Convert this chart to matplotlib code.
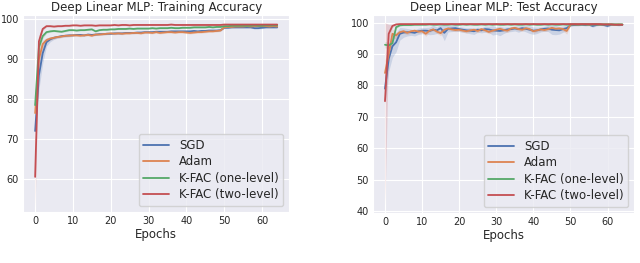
import numpy as np
import matplotlib
matplotlib.use("Agg")
import matplotlib.pyplot as plt
import seaborn as sns

sns.set_style("darkgrid")
plt.rcParams['font.family'] = ['DejaVu Sans']

epochs = np.arange(65)
labels = ['SGD', 'Adam', 'K-FAC (one-level)', 'K-FAC (two-level)']

# training accuracy (mean over runs)
sgd_train = [72.0, 86.0, 91.5, 94.3, 95.0, 95.4, 95.6, 95.8, 95.9, 96.0,
             96.0, 96.1, 96.1, 96.0, 96.2, 96.1, 96.2, 96.3, 96.3, 96.4,
             96.4, 96.5, 96.5, 96.5, 96.6, 96.6, 96.6, 96.7, 96.7, 96.8,
             96.8, 96.8, 96.9, 96.9, 96.9, 96.9, 97.0, 97.0, 97.0, 97.0,
             97.0, 97.0, 97.1, 97.0, 97.1, 97.1, 97.2, 97.2, 97.2, 97.3,
             97.9, 97.9, 98.0, 98.0, 98.0, 98.0, 98.0, 98.0, 97.8, 97.8,
             97.9, 98.0, 98.0, 98.0, 98.0]
adam_train = [76.5, 90.0, 93.8, 94.8, 95.2, 95.4, 95.6, 95.7, 95.9, 95.9,
              96.0, 96.0, 95.9, 96.0, 96.1, 95.9, 96.2, 96.2, 96.3, 96.4,
              96.5, 96.4, 96.5, 96.4, 96.5, 96.5, 96.6, 96.6, 96.5, 96.7,
              96.7, 96.6, 96.8, 96.6, 96.7, 96.8, 96.8, 96.7, 96.8, 96.8,
              96.7, 96.6, 96.7, 96.8, 96.8, 96.9, 97.0, 97.0, 97.1, 97.2,
              98.0, 98.1, 98.1, 98.2, 98.2, 98.2, 98.3, 98.2, 98.3, 98.3,
              98.3, 98.3, 98.2, 98.3, 98.2]
kfac1_train = [78.5, 93.0, 95.8, 96.8, 97.0, 97.1, 97.0, 96.9, 97.1, 97.3,
               97.3, 97.2, 97.3, 97.3, 97.4, 97.5, 97.0, 97.3, 97.4, 97.4,
               97.5, 97.5, 97.6, 97.6, 97.6, 97.7, 97.6, 97.7, 97.7, 97.7,
               97.7, 97.8, 97.7, 97.8, 97.8, 97.8, 97.9, 97.8, 97.8, 97.9,
               97.9, 97.9, 98.0, 98.0, 98.0, 98.0, 98.1, 98.0, 98.1, 98.1,
               98.3, 98.3, 98.4, 98.4, 98.4, 98.4, 98.4, 98.4, 98.5, 98.4,
               98.4, 98.5, 98.5, 98.5, 98.5]
kfac2_train = [60.5, 94.5, 97.6, 98.3, 98.3, 98.2, 98.3, 98.3, 98.4, 98.4,
               98.5, 98.5, 98.4, 98.5, 98.5, 98.5, 98.4, 98.5, 98.5, 98.5,
               98.5, 98.6, 98.5, 98.6, 98.6, 98.5, 98.6, 98.6, 98.6, 98.6,
               98.6, 98.6, 98.6, 98.6, 98.6, 98.6, 98.7, 98.6, 98.6, 98.6,
               98.6, 98.6, 98.6, 98.6, 98.6, 98.6, 98.6, 98.6, 98.6, 98.6,
               98.7, 98.7, 98.7, 98.7, 98.7, 98.7, 98.7, 98.7, 98.7, 98.7,
               98.7, 98.7, 98.7, 98.7, 98.7]

# spread of the training runs (first epochs only, small afterwards)
sgd_train_sd = [3.0, 3.5, 2.5, 1.0, 0.6, 0.4, 0.3, 0.3, 0.3, 0.3] + [0.2] * 55
adam_train_sd = [2.0, 2.0, 1.0, 0.6, 0.4, 0.3, 0.3, 0.3, 0.3, 0.3] + [0.25] * 55
kfac1_train_sd = [2.0, 1.5, 0.6, 0.3, 0.2, 0.2, 0.2, 0.2, 0.2, 0.2] + [0.15] * 55
kfac2_train_sd = [7.5, 1.5, 0.4, 0.2, 0.2, 0.2, 0.2, 0.2, 0.2, 0.2] + [0.15] * 55

# test accuracy (mean over runs)
sgd_test = [79.0, 88.5, 92.5, 93.8, 96.5, 96.9, 97.0, 97.0, 96.8, 97.3,
            97.5, 97.5, 97.4, 97.8, 97.6, 98.3, 96.8, 98.1, 98.2, 98.3,
            98.0, 97.8, 97.6, 97.5, 97.3, 97.8, 97.6, 98.0, 97.9, 97.6,
            97.5, 97.4, 97.6, 97.9, 98.0, 98.2, 98.0, 98.3, 98.1, 97.8,
            97.5, 97.6, 97.9, 98.1, 98.2, 97.8, 97.7, 97.6, 98.0, 98.3,
            99.2, 99.3, 99.3, 99.4, 99.3, 99.4, 99.0, 99.3, 99.4, 99.3,
            99.0, 99.4, 99.4, 99.3, 99.4]
adam_test = [84.0, 90.0, 96.5, 96.0, 97.0, 97.3, 96.8, 97.3, 97.5, 97.2,
             97.3, 96.5, 97.5, 97.9, 97.2, 96.7, 97.8, 98.2, 97.9, 97.7,
             97.8, 97.5, 97.3, 97.6, 97.8, 97.4, 98.0, 97.6, 97.1, 97.5,
             97.8, 98.1, 97.7, 97.5, 98.2, 98.4, 98.0, 97.8, 98.3, 98.0,
             97.3, 97.6, 97.9, 97.7, 98.0, 98.4, 98.1, 98.2, 98.0, 97.4,
             99.4, 99.5, 99.4, 99.5, 99.5, 99.4, 99.5, 99.5, 99.4, 99.5,
             99.5, 99.5, 99.4, 99.5, 99.4]
kfac1_test = [93.0, 92.8, 93.5, 98.6, 99.2, 99.3, 99.3, 99.3, 99.4, 99.4,
              99.4, 99.4, 99.5, 99.4, 99.4, 99.5, 99.4, 99.4, 99.5, 99.4,
              99.4, 99.5, 99.4, 99.5, 99.4, 99.4, 99.5, 99.4, 99.5, 99.4,
              99.5, 99.4, 99.4, 99.5, 99.4, 99.5, 99.4, 99.4, 99.5, 99.4,
              99.5, 99.4, 99.4, 99.5, 99.4, 99.5, 99.4, 99.4, 99.5, 99.4,
              99.5, 99.5, 99.5, 99.5, 99.5, 99.5, 99.5, 99.5, 99.5, 99.5,
              99.5, 99.5, 99.5, 99.5, 99.5]
kfac2_test = [75.0, 96.5, 99.0, 99.5, 99.6, 99.6, 99.6, 99.6, 99.6, 99.6,
              99.6, 99.6, 99.6, 99.6, 99.6, 99.6, 99.6, 99.6, 99.6, 99.6,
              99.6, 99.6, 99.6, 99.6, 99.6, 99.6, 99.6, 99.6, 99.6, 99.6,
              99.6, 99.6, 99.6, 99.6, 99.6, 99.6, 99.6, 99.6, 99.6, 99.6,
              99.6, 99.6, 99.6, 99.6, 99.6, 99.6, 99.6, 99.6, 99.6, 99.6,
              99.6, 99.6, 99.6, 99.6, 99.6, 99.6, 99.6, 99.6, 99.6, 99.5,
              99.5, 99.5, 99.4, 99.4, 99.4]

sgd_test_sd = [5.0, 4.0, 3.5, 3.0, 2.0, 1.5, 1.2, 1.0, 1.0, 1.0,
               1.0, 1.0, 1.2, 1.5, 1.0, 1.5, 2.5, 1.0, 1.0, 1.0,
               0.8, 0.8, 0.8, 1.0, 1.0, 0.8, 0.8, 1.0, 1.0, 1.5,
               1.2, 1.5, 1.0, 0.8, 0.8, 0.8, 1.0, 0.8, 1.0, 1.2,
               1.2, 1.0, 0.8, 0.8, 1.0, 1.5, 1.5, 1.2, 1.0, 0.8,
               0.3, 0.3, 0.3, 0.2, 0.3, 0.3, 0.4, 0.3, 0.2, 0.3,
               0.4, 0.2, 0.2, 0.3, 0.2]
adam_test_sd = [4.0, 3.0, 1.5, 1.0, 0.6, 0.6, 0.6, 0.5, 0.5, 0.5,
                0.5, 0.8, 0.5, 0.5, 0.6, 0.8, 0.5, 0.4, 0.5, 0.5,
                0.5, 0.5, 0.6, 0.5, 0.5, 0.6, 0.5, 0.5, 0.6, 0.5,
                0.5, 0.5, 0.5, 0.6, 0.5, 0.4, 0.5, 0.5, 0.4, 0.5,
                0.6, 0.5, 0.5, 0.5, 0.5, 0.4, 0.5, 0.5, 0.6, 1.0,
                0.2, 0.2, 0.2, 0.2, 0.2, 0.2, 0.2, 0.2, 0.2, 0.2,
                0.2, 0.2, 0.2, 0.2, 0.2]
kfac1_test_sd = [1.0, 1.0, 1.0, 0.4, 0.2, 0.2, 0.2, 0.2, 0.2, 0.2] + [0.15] * 55
kfac2_test_sd = [33.0, 3.0, 0.5, 0.2, 0.2, 0.2, 0.2, 0.2, 0.2, 0.2] + [0.15] * 55

train_means = [sgd_train, adam_train, kfac1_train, kfac2_train]
train_sds = [sgd_train_sd, adam_train_sd, kfac1_train_sd, kfac2_train_sd]
test_means = [sgd_test, adam_test, kfac1_test, kfac2_test]
test_sds = [sgd_test_sd, adam_test_sd, kfac1_test_sd, kfac2_test_sd]

colors = sns.color_palette("deep")[:4]

fig = plt.figure(figsize=(6.4, 2.63), dpi=100)
ax1 = fig.add_axes([0.036, 0.194, 0.416, 0.749])
ax2 = fig.add_axes([0.583, 0.19, 0.408, 0.753])

panels = [(ax1, train_means, train_sds, 'Deep Linear MLP: Training Accuracy', (51.7, 101.1)),
          (ax2, test_means, test_sds, 'Deep Linear MLP: Test Accuracy', (39.3, 102.5))]

for ax, means, sds, title, ylim in panels:
    for m, s, c, lab in zip(means, sds, colors, labels):
        m = np.array(m)
        s = np.array(s)
        ax.fill_between(epochs, m - s, np.minimum(m + s, 100), color=c, alpha=0.2, lw=0)
        ax.plot(epochs, m, color=c, lw=1.3, label=lab)
    ax.set_title(title, fontsize=8.5, pad=3)
    ax.set_xlabel('Epochs', fontsize=8.5, labelpad=1)
    ax.set_xticks([0, 10, 20, 30, 40, 50, 60])
    ax.set_ylim(*ylim)
    ax.set_xlim(-3.2, 67.2)
    ax.tick_params(labelsize=7, length=0, pad=3)
    ax.legend(loc='lower right', fontsize=8.5, handlelength=2.2, borderpad=0.4,
              labelspacing=0.3)

fig.savefig('out.png', dpi=100)
